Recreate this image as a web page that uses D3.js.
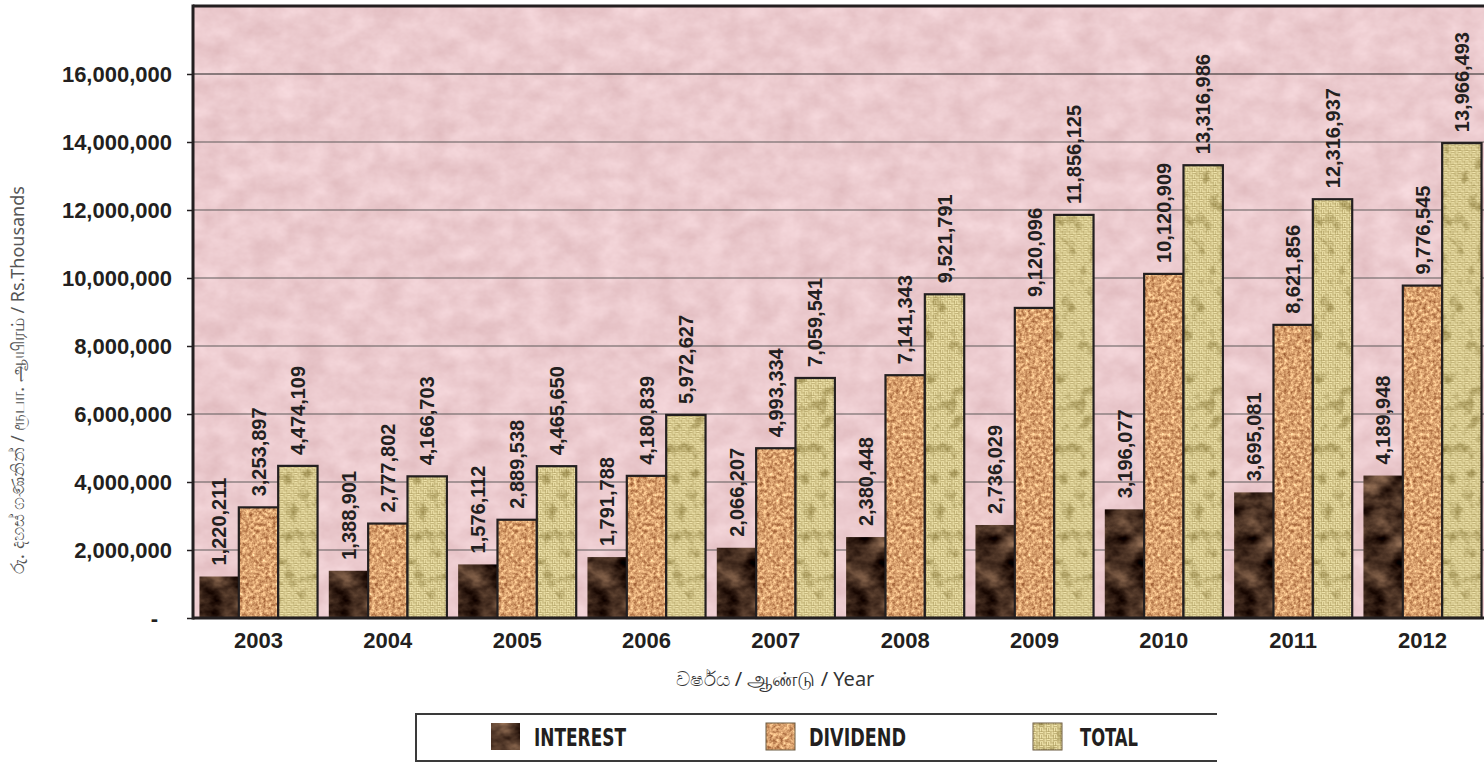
<!DOCTYPE html>
<html>
<head>
<meta charset="utf-8">
<script src="https://cdn.jsdelivr.net/npm/d3@7"></script>
<style>
  body { margin: 0; background: #fff; }
  svg { display: block; font-family: "Liberation Sans", Arial, sans-serif; }
</style>
</head>
<body>
<div id="chart"></div>
<script>
// Chart values (Rs. thousands)
const years = ["2003", "2004", "2005", "2006", "2007", "2008", "2009", "2010", "2011", "2012"];
const interest = [1220211, 1388901, 1576112, 1791788, 2066207, 2380448, 2736029, 3196077, 3695081, 4189948];
const dividend = [3253897, 2777802, 2889538, 4180839, 4993334, 7141343, 9120096, 10120909, 8621856, 9776545];
const total = [4474109, 4166703, 4465650, 5972627, 7059541, 9521791, 11856125, 13316986, 12316937, 13966493];
const seriesNames = ["INTEREST", "DIVIDEND", "TOTAL"];
const yTicks = [0, 2000000, 4000000, 6000000, 8000000, 10000000, 12000000, 14000000, 16000000];

const width = 1484;
const height = 762;
const plotLeft = 193, plotTop = 6, plotBottom = 618, plotRight = 1488;

const seriesData = [interest, dividend, total];

const svg = d3.select("#chart")
  .append("svg")
  .attr("width", width)
  .attr("height", height);

const defs = svg.append("defs");

// noise filter: turbulence -> colour matrix -> clipped to the shape
function noiseFilter(id, freq, oct, seed, rows) {
  const f = defs.append("filter").attr("id", id)
    .attr("x", 0).attr("y", 0).attr("width", 1).attr("height", 1)
    .attr("color-interpolation-filters", "sRGB");
  f.append("feTurbulence").attr("type", "fractalNoise")
    .attr("baseFrequency", freq).attr("numOctaves", oct).attr("seed", seed).attr("result", "n");
  f.append("feColorMatrix").attr("in", "n").attr("type", "matrix")
    .attr("values", rows).attr("result", "c");
  f.append("feComposite").attr("in", "c").attr("in2", "SourceGraphic").attr("operator", "in");
}

noiseFilter("texBg", "0.04 0.05", 4, 11,
  "0.1 0 0 0 0.875  0.14 0 0 0 0.725  0.14 0 0 0 0.74  0 0 0 0 1");
noiseFilter("texInt", "0.035 0.05", 4, 7,
  "0.9 0 0 0 -0.16  0.75 0 0 0 -0.18  0.6 0 0 0 -0.16  0 0 0 0 1");
noiseFilter("texDiv", "0.3", 3, 2,
  "0.7 0 0 0 0.50  0.8 0 0 0 0.23  0.7 0 0 0 0.08  0 0 0 0 1");
noiseFilter("texGrime", "0.07", 3, 5,
  "0 0 0 0 0.40  0 0 0 0 0.33  0 0 0 0 0.08  2.2 0 0 0 -1.15");

// woven texture for TOTAL
const weave = defs.append("pattern").attr("id", "weave")
  .attr("patternUnits", "userSpaceOnUse").attr("width", 7).attr("height", 7);
weave.append("rect").attr("width", 7).attr("height", 7).attr("fill", "#9a8848");
[[0, 0.4, 3.5, 1.3], [0, 2.1, 3.5, 1.3], [3.9, 0, 1.3, 3.5], [5.6, 0, 1.3, 3.5],
 [0.4, 3.5, 1.3, 3.5], [2.1, 3.5, 1.3, 3.5], [3.5, 3.9, 3.5, 1.3], [3.5, 5.6, 3.5, 1.3]]
  .forEach(r => weave.append("rect")
    .attr("x", r[0]).attr("y", r[1]).attr("width", r[2]).attr("height", r[3])
    .attr("fill", "#f0e4ac"));

function texRect(g, x, y, w, h, i, stroke, sw) {
  if (i === 0) {
    g.append("rect").attr("x", x).attr("y", y).attr("width", w).attr("height", h)
      .attr("fill", "#4a3324").attr("filter", "url(#texInt)");
  } else if (i === 1) {
    g.append("rect").attr("x", x).attr("y", y).attr("width", w).attr("height", h)
      .attr("fill", "#d9a070").attr("filter", "url(#texDiv)");
  } else {
    g.append("rect").attr("x", x).attr("y", y).attr("width", w).attr("height", h)
      .attr("fill", "url(#weave)");
    g.append("rect").attr("x", x).attr("y", y).attr("width", w).attr("height", h)
      .attr("fill", "#000").attr("filter", "url(#texGrime)").attr("opacity", 0.7);
  }
  if (stroke) {
    g.append("rect").attr("x", x).attr("y", y).attr("width", w).attr("height", h)
      .attr("fill", "none").attr("stroke", stroke).attr("stroke-width", sw);
  }
}

// scales
const x = d3.scaleBand().domain(years).range([plotLeft, plotRight])
  .paddingInner(0.087).paddingOuter(0.05);
const xs = d3.scaleBand().domain(seriesNames).range([0, x.bandwidth()]);
const y = d3.scaleLinear().domain([0, 18000000]).range([plotBottom, plotTop]);

// plot background
svg.append("rect").attr("x", plotLeft).attr("y", plotTop)
  .attr("width", width - plotLeft).attr("height", plotBottom - plotTop)
  .attr("fill", "#ecc9cd").attr("filter", "url(#texBg)");

// gridlines
svg.append("g").selectAll("line")
  .data(yTicks.filter(d => d > 0))
  .join("line")
  .attr("x1", plotLeft).attr("x2", width)
  .attr("y1", d => y(d)).attr("y2", d => y(d))
  .attr("stroke", d => d === 16000000 ? "#222" : "#5e5a5a")
  .attr("stroke-width", 1.2);

// bars
const groups = svg.append("g").selectAll("g")
  .data(years)
  .join("g")
  .attr("transform", d => `translate(${x(d)},0)`);

groups.each(function (yr, yi) {
  const g = d3.select(this);
  seriesData.forEach((vals, si) => {
    const v = vals[yi];
    texRect(g, xs(seriesNames[si]), y(v), xs.bandwidth(), plotBottom - y(v), si,
      si === 0 ? null : "#231f20", 2.2);
  });
});

// value labels
groups.each(function (yr, yi) {
  const g = d3.select(this);
  seriesData.forEach((vals, si) => {
    const v = vals[yi];
    g.append("text")
      .attr("transform", `translate(${xs(seriesNames[si]) + xs.bandwidth() / 2},${y(v) - 11}) rotate(-90)`)
      .attr("dy", "0.36em")
      .attr("font-size", 20)
      .attr("font-weight", "bold")
      .attr("fill", "#231f20")
      .text(d3.format(",")(v));
  });
});

// y axis
const yAxis = svg.append("g")
  .attr("transform", `translate(${plotLeft},0)`)
  .call(d3.axisLeft(y).tickValues(yTicks).tickSize(6).tickPadding(15)
    .tickFormat(d => d === 0 ? "-" : d3.format(",")(d)));
yAxis.select(".domain").remove();
yAxis.selectAll(".tick line").attr("stroke", "#231f20").attr("stroke-width", 1.5);
yAxis.selectAll(".tick text")
  .attr("font-size", 22).attr("font-weight", "bold").attr("fill", "#231f20")
  .attr("font-family", "'Liberation Sans', Arial, sans-serif");
yAxis.selectAll(".tick text").filter(d => d === 0).attr("dx", -14);

// x axis
const xAxis = svg.append("g")
  .attr("transform", `translate(0,${plotBottom})`)
  .call(d3.axisBottom(x).tickSize(0).tickPadding(14));
xAxis.select(".domain").remove();
xAxis.selectAll(".tick text")
  .attr("font-size", 22).attr("font-weight", "bold").attr("fill", "#231f20")
  .attr("font-family", "'Liberation Sans', Arial, sans-serif");

// frame lines
svg.append("line").attr("x1", plotLeft).attr("x2", width).attr("y1", plotBottom).attr("y2", plotBottom)
  .attr("stroke", "#231f20").attr("stroke-width", 3);
svg.append("line").attr("x1", plotLeft).attr("x2", plotLeft).attr("y1", plotTop - 1.5).attr("y2", plotBottom + 1.5)
  .attr("stroke", "#231f20").attr("stroke-width", 3);
svg.append("line").attr("x1", plotLeft).attr("x2", width).attr("y1", plotTop).attr("y2", plotTop)
  .attr("stroke", "#231f20").attr("stroke-width", 3);

// axis titles
svg.append("text")
  .attr("transform", "translate(18,380) rotate(-90)")
  .attr("text-anchor", "middle")
  .attr("dy", "0.35em")
  .attr("font-size", 18)
  .attr("fill", "#555")
  .attr("font-family", "'Noto Sans', 'DejaVu Sans', sans-serif")
  .text("රු. දහස් ගණනින්   /   ரூபா. ஆயிரம்   /   Rs.Thousands");

svg.append("text")
  .attr("x", 775).attr("y", 686)
  .attr("text-anchor", "middle")
  .attr("font-size", 20)
  .attr("fill", "#333")
  .attr("font-family", "'Noto Sans', 'DejaVu Sans', sans-serif")
  .text("වර්ෂය  /  ஆண்டு  /  Year");

// legend
const legend = svg.append("g");
legend.append("path")
  .attr("d", "M1217,714 H416 V761 H1217")
  .attr("fill", "none").attr("stroke", "#3a3a3a").attr("stroke-width", 2);

const legendX = [491, 766, 1033];
const legendW = [92, 97, 58];
seriesNames.forEach((name, i) => {
  const g = legend.append("g");
  texRect(g, legendX[i], 723, 29, 27, i, i === 0 ? null : "#6b5a40", 1);
  g.append("text")
    .attr("x", legendX[i] + (i === 2 ? 47 : 43))
    .attr("y", 746)
    .attr("font-size", 24)
    .attr("font-weight", "bold")
    .attr("fill", "#231f20")
    .attr("font-family", "'Liberation Sans Narrow', 'DejaVu Sans Condensed', 'Arial Narrow', sans-serif")
    .attr("textLength", legendW[i])
    .attr("lengthAdjust", "spacingAndGlyphs")
    .text(name);
});
</script>
</body>
</html>
